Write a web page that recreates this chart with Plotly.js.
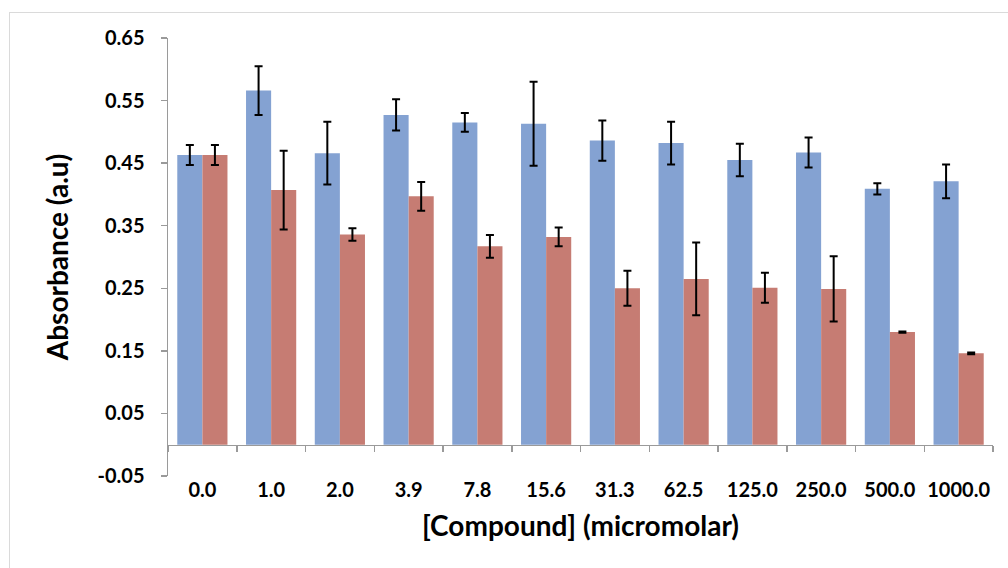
<!DOCTYPE html>
<html>
<head>
<meta charset="utf-8">
<script src="https://cdn.plot.ly/plotly-3.0.1.min.js"></script>
<style>
html,body{margin:0;padding:0;background:#fff;}
#wrap{position:relative;width:1008px;height:568px;overflow:hidden;}
#frame{position:absolute;left:9px;top:12px;width:1100px;height:700px;border-left:1px solid #DADADA;border-top:1px solid #DADADA;}
#chart{position:absolute;left:0;top:0;width:1008px;height:568px;}
</style>
</head>
<body>
<div id="wrap"><div id="frame"></div><div id="chart"></div></div>
<script>
const categories = ['0.0','1.0','2.0','3.9','7.8','15.6','31.3','62.5','125.0','250.0','500.0','1000.0'];
const seriesA = [0.463, 0.566, 0.466, 0.527, 0.515, 0.513, 0.486, 0.482, 0.455, 0.467, 0.409, 0.421];
const seriesAErr = [0.016, 0.039, 0.050, 0.025, 0.015, 0.067, 0.032, 0.034, 0.026, 0.024, 0.009, 0.027];
const seriesB = [0.463, 0.407, 0.336, 0.397, 0.317, 0.332, 0.250, 0.265, 0.251, 0.249, 0.180, 0.146];
const seriesBErr = [0.016, 0.063, 0.010, 0.023, 0.018, 0.015, 0.028, 0.058, 0.024, 0.052, 0.001, 0.0015];
const yTicks = [-0.05, 0.05, 0.15, 0.25, 0.35, 0.45, 0.55, 0.65];

const FONT = 'Lato, "Open Sans", sans-serif';
const axisGrey = '#9A9A9A';
const yMin = -0.05, yMax = 0.65;

const boundaries = [];
for (let i = 0; i <= categories.length; i++) boundaries.push(i - 0.5);

const errStyle = {type:'data', visible:true, color:'#000000', thickness:2, width:4};

const traces = [
  {type:'bar', x:categories, y:seriesA, name:'A', marker:{color:'#84A2D2'},
   error_y:Object.assign({array:seriesAErr}, errStyle), hoverinfo:'skip'},
  {type:'bar', x:categories, y:seriesB, name:'B', marker:{color:'#C67C73'},
   error_y:Object.assign({array:seriesBErr}, errStyle), hoverinfo:'skip'},
  {type:'scatter', x:[], y:[], xaxis:'x2', yaxis:'y', showlegend:false, hoverinfo:'skip'}
];

const layout = {
  width:1008, height:568,
  margin:{l:168, r:15, t:38, b:92},
  paper_bgcolor:'rgba(0,0,0,0)', plot_bgcolor:'rgba(0,0,0,0)',
  showlegend:false,
  barmode:'group', bargap:0.27, bargroupgap:0,
  font:{family:FONT, color:'#000000'},
  xaxis:{
    type:'category', categoryarray:categories, categoryorder:'array',
    range:[-0.5, categories.length-0.5],
    anchor:'y', showline:false, ticks:'', showgrid:false, zeroline:false,
    tickfont:{family:FONT, size:20, weight:'bold', color:'#000'},
    title:{text:'[Compound] (micromolar)', font:{family:FONT, size:28, weight:'bold', color:'#000'}, standoff:16}
  },
  xaxis2:{
    overlaying:'x', anchor:'free', position:(0 - yMin)/(yMax - yMin),
    range:[-0.5, categories.length-0.5], tickmode:'array', tickvals:boundaries,
    showticklabels:false, ticks:'outside', ticklen:6, tickwidth:1.5, tickcolor:axisGrey,
    showline:true, linecolor:axisGrey, linewidth:1.5, showgrid:false, zeroline:false
  },
  yaxis:{
    range:[yMin, yMax], tickmode:'array', tickvals:yTicks,
    ticktext:yTicks.map(v => v.toFixed(2)),
    showline:true, linecolor:axisGrey, linewidth:1.5,
    ticks:'outside', ticklen:6, tickwidth:1.5, tickcolor:axisGrey,
    showgrid:false, zeroline:false, ticklabelstandoff:12,
    tickfont:{family:FONT, size:20, weight:'bold', color:'#000'},
    title:{text:'Absorbance (a.u)', font:{family:FONT, size:28, weight:'bold', color:'#000'}, standoff:20}
  }
};

Plotly.newPlot('chart', traces, layout, {staticPlot:true, displayModeBar:false});
</script>
</body>
</html>
